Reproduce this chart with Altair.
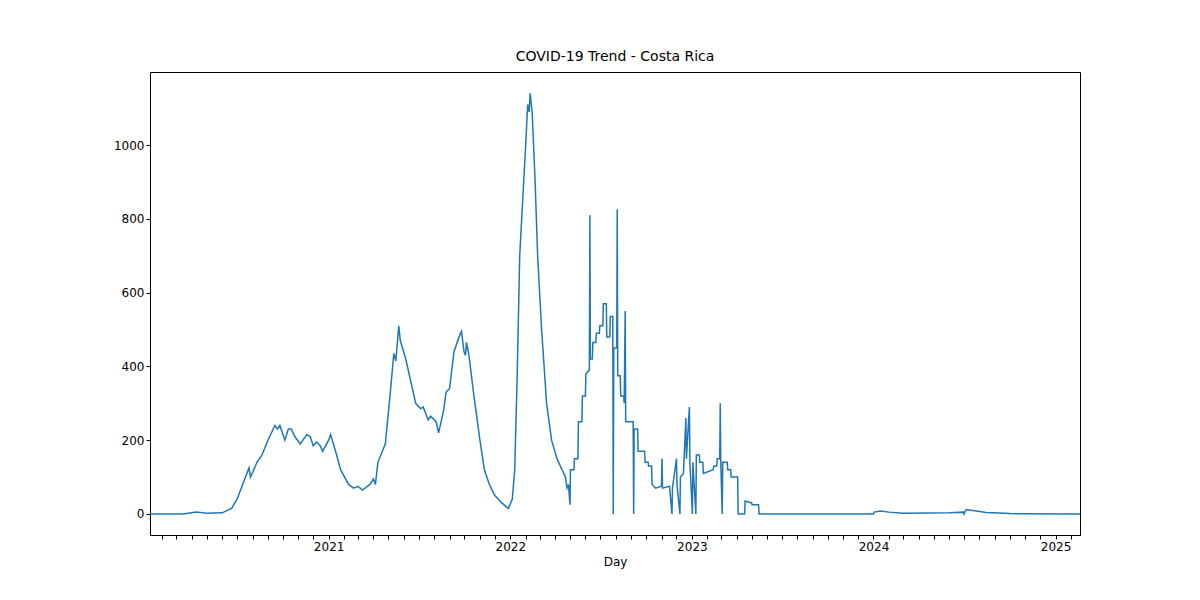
import pandas as pd
import altair as alt

# Daily new cases (approximate breakpoints)
dates = [
    "2020-01-08", "2020-03-15", "2020-04-10", "2020-05-01", "2020-06-01", "2020-06-20",
    "2020-07-01", "2020-07-15", "2020-07-25", "2020-07-28", "2020-08-10", "2020-08-20",
    "2020-09-01", "2020-09-15", "2020-09-20", "2020-09-25", "2020-10-05", "2020-10-12",
    "2020-10-18", "2020-10-25", "2020-11-05", "2020-11-18", "2020-11-25", "2020-12-01",
    "2020-12-08", "2020-12-15", "2020-12-20", "2021-01-01", "2021-01-05", "2021-01-15",
    "2021-01-25", "2021-02-10", "2021-02-20", "2021-03-01", "2021-03-10", "2021-03-25",
    "2021-04-01", "2021-04-05", "2021-04-10", "2021-04-25", "2021-05-05", "2021-05-12",
    "2021-05-16", "2021-05-22", "2021-05-25", "2021-06-05", "2021-06-15", "2021-06-25",
    "2021-07-05", "2021-07-10", "2021-07-20", "2021-07-25", "2021-08-05", "2021-08-10",
    "2021-08-20", "2021-08-25", "2021-09-01", "2021-09-10", "2021-09-20", "2021-09-25",
    "2021-09-30", "2021-10-03", "2021-10-05", "2021-10-10", "2021-10-20", "2021-11-01",
    "2021-11-10", "2021-11-20", "2021-12-01", "2021-12-15", "2021-12-28", "2022-01-05",
    "2022-01-10", "2022-01-15", "2022-01-20", "2022-01-28", "2022-02-01", "2022-02-05",
    "2022-02-08", "2022-02-10", "2022-02-14", "2022-02-20", "2022-02-25", "2022-03-05",
    "2022-03-15", "2022-03-25", "2022-04-05", "2022-04-15", "2022-04-22", "2022-04-25",
    "2022-04-28", "2022-05-01", "2022-05-02", "2022-05-09", "2022-05-10", "2022-05-17",
    "2022-05-18", "2022-05-25", "2022-05-26", "2022-06-01", "2022-06-02", "2022-06-09",
    "2022-06-10", "2022-06-11", "2022-06-15", "2022-06-16", "2022-06-22", "2022-06-23",
    "2022-06-29", "2022-06-30", "2022-07-06", "2022-07-07", "2022-07-13", "2022-07-14",
    "2022-07-20", "2022-07-21", "2022-07-26", "2022-07-27", "2022-07-28", "2022-08-03",
    "2022-08-04", "2022-08-05", "2022-08-10", "2022-08-11", "2022-08-17", "2022-08-18",
    "2022-08-20", "2022-08-21", "2022-09-05", "2022-09-06", "2022-09-07", "2022-09-14",
    "2022-09-15", "2022-09-28", "2022-09-29", "2022-10-05", "2022-10-06", "2022-10-12",
    "2022-10-13", "2022-10-20", "2022-11-01", "2022-11-02", "2022-11-03", "2022-11-17",
    "2022-11-22", "2022-11-23", "2022-12-01", "2022-12-02", "2022-12-08", "2022-12-09",
    "2022-12-15", "2022-12-20", "2022-12-21", "2022-12-27", "2022-12-28", "2023-01-02",
    "2023-01-03", "2023-01-09", "2023-01-10", "2023-01-16", "2023-01-17", "2023-01-23",
    "2023-01-24", "2023-02-13", "2023-02-14", "2023-02-20", "2023-02-21", "2023-02-26",
    "2023-02-27", "2023-02-28", "2023-03-03", "2023-03-04", "2023-03-13", "2023-03-14",
    "2023-03-20", "2023-03-21", "2023-04-03", "2023-04-04", "2023-04-17", "2023-04-18",
    "2023-05-01", "2023-05-02", "2023-05-15", "2023-05-16", "2024-01-01", "2024-01-02",
    "2024-01-15", "2024-02-01", "2024-03-01", "2024-06-01", "2024-06-30", "2024-07-01",
    "2024-07-05", "2024-07-15", "2024-08-15", "2024-10-01", "2025-02-19",
]
cases = [
    0, 0, 5, 2, 3, 15,
    40, 90, 125, 100, 140, 160,
    200, 240, 230, 240, 200, 230,
    230, 210, 190, 215, 210, 185,
    195, 185, 170, 200, 215, 170,
    120, 80, 70, 75, 65, 80,
    95, 80, 140, 190, 330, 435,
    415, 510, 470, 420, 360, 300,
    285, 290, 255, 265, 250, 220,
    280, 330, 340, 440, 480, 495,
    440, 430, 465, 430, 320, 200,
    120, 80, 50, 30, 15, 40,
    120, 380, 700, 900, 1000, 1110,
    1090, 1140, 1090, 900, 700, 500,
    300, 200, 150, 120, 100, 70,
    80, 25, 120, 120, 150, 150,
    250, 250, 320, 320, 380, 390,
    810, 420, 420, 465, 465, 490,
    490, 510, 510, 570, 570, 480,
    480, 535, 535, 0, 450, 450,
    825, 375, 375, 320, 320, 300,
    550, 250, 250, 0, 230, 230,
    170, 170, 140, 140, 130, 130,
    80, 70, 75, 150, 70, 75,
    0, 70, 150, 80, 0, 100,
    110, 260, 150, 290, 140, 0,
    140, 0, 160, 160, 140, 140,
    110, 120, 130, 130, 150, 150,
    300, 145, 0, 140, 140, 120,
    120, 100, 100, 0, 0, 35,
    30, 25, 25, 0, 0, 5,
    8, 5, 2, 3, 5, 0,
    12, 10, 4, 1, 0,
]

df = pd.DataFrame({"Day": dates, "cases": cases})

font = "DejaVu Sans"

chart = (
    alt.Chart(df)
    .mark_line(color="#1f77b4", strokeWidth=1.5)
    .encode(
        x=alt.X(
            "Day:T",
            title="Day",
            scale=alt.Scale(
                domain=[alt.DateTime(year=2020, month=1, date=8),
                        alt.DateTime(year=2025, month=2, date=19)],
                nice=False,
            ),
            axis=alt.Axis(
                grid=False,
                tickCount={"interval": "month", "step": 1},
                labelExpr="month(datum.value) == 0 ? timeFormat(datum.value, '%Y') : ''",
                labelAngle=0,
                labelOverlap=False,
                tickColor="black",
                domainColor="black",
                labelColor="black",
                titleColor="black",
                labelFont=font,
                titleFont=font,
                labelFontSize=12,
                titleFontSize=12,
                titleFontWeight="normal",
                tickSize=4,
                titlePadding=4,
            ),
        ),
        y=alt.Y(
            "cases:Q",
            title=None,
            scale=alt.Scale(domain=[-57, 1198], nice=False, zero=False),
            axis=alt.Axis(
                grid=False,
                values=[0, 200, 400, 600, 800, 1000],
                format="d",
                tickColor="black",
                domainColor="black",
                labelColor="black",
                labelFont=font,
                labelFontSize=12,
                tickSize=4,
            ),
        ),
    )
    .properties(
        width=930,
        height=463,
        title=alt.TitleParams(
            "COVID-19 Trend - Costa Rica",
            font=font, fontSize=14, fontWeight="normal", color="black", offset=8,
        ),
        autosize=alt.AutoSizeParams(type="none"),
        padding={"left": 142, "top": 64, "right": 100, "bottom": 50},
    )
    .configure_view(stroke="black", strokeWidth=1)
)

chart.save("out.html", embed_options={"renderer": "svg", "actions": False})
